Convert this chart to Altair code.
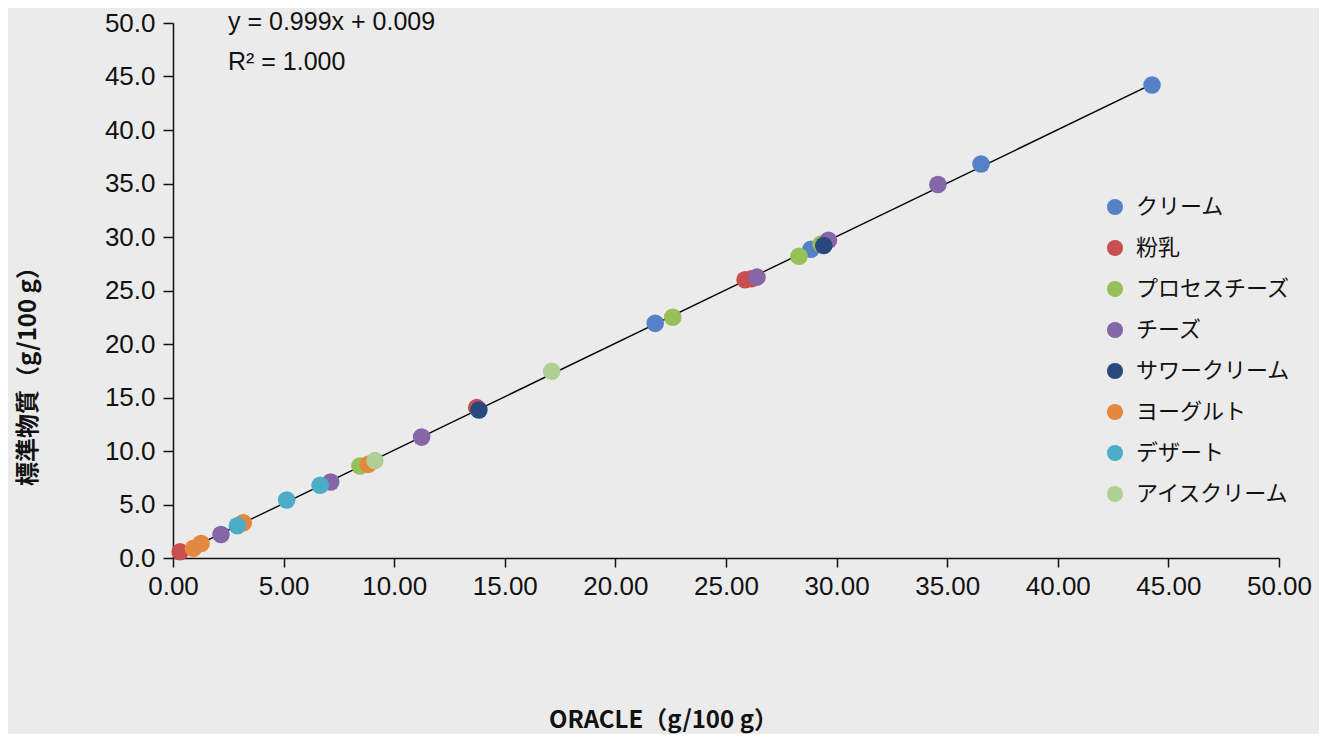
import altair as alt
import pandas as pd

categories = ["クリーム", "粉乳", "プロセスチーズ", "チーズ", "サワークリーム", "ヨーグルト", "デザート", "アイスクリーム"]
colors = ["#5581C6", "#C94F4E", "#97BF5A", "#8566A8", "#27497E", "#E3883E", "#4BADC8", "#B0CF93"]

cream_x = [21.80, 28.84, 36.53, 44.26]
cream_y = [21.93, 28.85, 36.82, 44.20]
milkpowder_x = [0.32, 13.73, 25.86, 26.15]
milkpowder_y = [0.59, 14.05, 26.00, 26.10]
process_x = [8.45, 22.59, 28.30, 29.30]
process_y = [8.60, 22.50, 28.20, 29.35]
cheese_x = [2.17, 7.13, 11.24, 26.40, 29.63, 34.58]
cheese_y = [2.20, 7.10, 11.30, 26.25, 29.70, 34.90]
sour_x = [13.83, 29.42]
sour_y = [13.83, 29.20]
yogurt_x = [0.92, 1.27, 3.18, 8.83]
yogurt_y = [0.90, 1.35, 3.30, 8.75]
dessert_x = [2.91, 5.14, 6.65]
dessert_y = [3.02, 5.42, 6.80]
icecream_x = [9.13, 17.12]
icecream_y = [9.10, 17.45]

eq_text = "y = 0.999x + 0.009"
r2_text = "R² = 1.000"

series = [
    (cream_x, cream_y), (milkpowder_x, milkpowder_y), (process_x, process_y),
    (cheese_x, cheese_y), (sour_x, sour_y), (yogurt_x, yogurt_y),
    (dessert_x, dessert_y), (icecream_x, icecream_y),
]
rows = []
for i, (xs, ys) in enumerate(series):
    for xv, yv in zip(xs, ys):
        rows.append({"cat": categories[i], "order": i, "x": xv, "y": yv})
df = pd.DataFrame(rows)

label_font = "Liberation Sans"
jp_font = "Noto Sans CJK JP"

xscale = alt.Scale(domain=[0, 50], nice=False, zero=False)
yscale = alt.Scale(domain=[0, 50], nice=False, zero=False)

base = alt.Chart(df)

points = base.mark_circle(size=310, opacity=1).encode(
    x=alt.X("x:Q", scale=xscale, axis=alt.Axis(
        values=list(range(0, 51, 5)), format=".2f", title="ORACLE（g/100 g）",
        titleX=490, titleY=162, titleAlign="center", titleBaseline="middle",
        titleFont=jp_font, titleFontSize=24, titleFontWeight="bold", titleColor="#111",
        labelFont=label_font, labelFontSize=26, labelColor="#111", labelPadding=6,
        tickSize=9, tickColor="#111", domainColor="#111", domainWidth=1.5, tickWidth=1.5,
        grid=False, labelFlush=False, labelOverlap=False)),
    y=alt.Y("y:Q", scale=yscale, axis=alt.Axis(
        values=list(range(0, 51, 5)), format=".1f", title="標準物質（g/100 g）",
        titleX=-145, titleY=347, titleAlign="center", titleBaseline="middle", titleAngle=-90,
        titleFont=jp_font, titleFontSize=24, titleFontWeight="bold", titleColor="#111",
        labelFont=label_font, labelFontSize=26, labelColor="#111", labelPadding=8,
        tickSize=10, tickColor="#111", domainColor="#111", domainWidth=1.5, tickWidth=1.5,
        grid=False, labelFlush=False, labelOverlap=False)),
    color=alt.Color("cat:N", scale=alt.Scale(domain=categories, range=colors), legend=alt.Legend(
        title=None, orient="none", legendX=931, legendY=173, padding=0,
        labelFont=jp_font, labelFontSize=22, labelColor="#111", labelOffset=10,
        symbolType="circle", symbolSize=260, symbolStrokeWidth=0, rowPadding=19)),
    order=alt.Order("order:Q"),
)

trend = base.transform_regression("x", "y", method="linear").mark_line(
    color="black", strokeWidth=1.4).encode(x=alt.X("x:Q", scale=xscale), y=alt.Y("y:Q", scale=yscale))

eq = alt.Chart(pd.DataFrame({"t": [eq_text]})).mark_text(
    align="left", baseline="middle", font=label_font, fontSize=25, color="#111").encode(
    text="t:N", x=alt.value(55), y=alt.value(-1))
r2 = alt.Chart(pd.DataFrame({"t": [r2_text]})).mark_text(
    align="left", baseline="middle", font=label_font, fontSize=25, color="#111").encode(
    text="t:N", x=alt.value(55), y=alt.value(39))

chart = alt.layer(trend, points, eq, r2).properties(
    width=1106, height=535,
    autosize=alt.AutoSizeParams(type="none"),
    padding={"left": 165, "top": 15, "right": 40, "bottom": 176},
    background="#EBEBEB",
).configure_view(stroke=None)

chart.save("out.html", embed_options={"renderer": "svg", "actions": False})
